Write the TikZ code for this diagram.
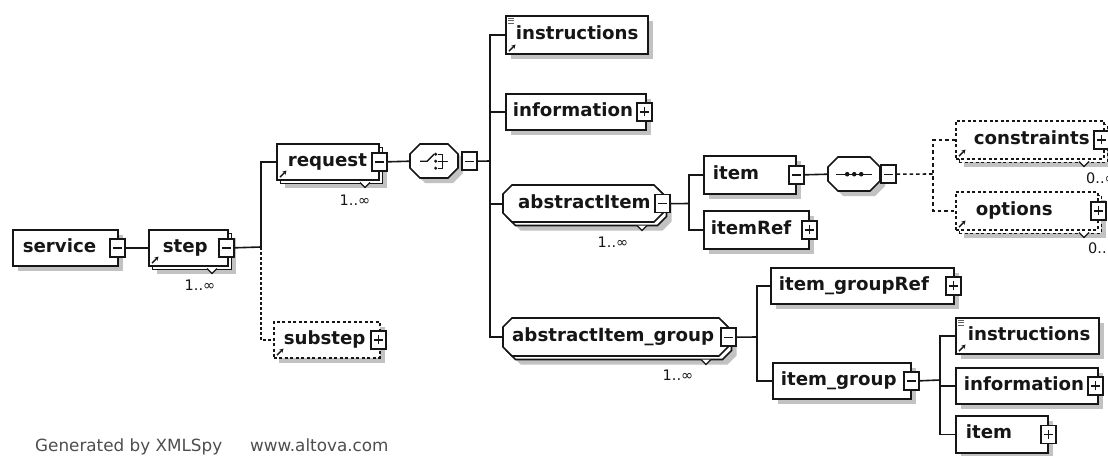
\documentclass[tikz,border=0pt]{standalone}
\usepackage{fontspec}
\setmainfont{DejaVu Sans}
\usetikzlibrary{shadows,arrows.meta}

\definecolor{ink}{HTML}{161616}
\definecolor{shade}{HTML}{C2C2C2}
\definecolor{foot}{HTML}{4E4E4E}
\definecolor{docline}{HTML}{606060}

\tikzset{
  lab/.style={font=\fontsize{18.2}{20}\selectfont\bfseries, text=ink},
  elbox/.style={draw=ink, line width=1.6pt, fill=white, anchor=north west,
    inner xsep=0pt, inner ysep=0pt, align=left, text height=13pt, text depth=4pt, lab},
  octlab/.style={anchor=north west, inner xsep=0pt, inner ysep=0pt, align=left,
    text height=13pt, text depth=4pt, lab},
  elshadow/.style={general shadow={shadow xshift=5pt, shadow yshift=-5pt, fill=shade}},
  elstack/.style={general shadow={shadow xshift=8.5pt, shadow yshift=-8.5pt, fill=shade},
    general shadow={shadow xshift=3.5pt, shadow yshift=-3.5pt, fill=white, draw=ink}},
  eloptional/.style={dash pattern=on 3pt off 2.5pt},
  conn/.style={draw=ink, line width=1.6pt},
  optconn/.style={conn, dash pattern=on 3.5pt off 3pt},
  dotconn/.style={conn, dash pattern=on 2.5pt off 2.5pt},
  pmbox/.style={draw=ink, line width=1.5pt, fill=white, minimum width=15pt, minimum height=18pt, inner sep=0pt},
  pmline/.style={draw=ink, line width=1.4pt},
  mult/.style={font=\fontsize{14.5}{16}\selectfont, inner sep=0pt, text=ink},
  refarrow/.style={draw=ink, line width=1.4pt, -{Stealth[length=4pt,width=4.5pt]}},
  docmark/.style={draw=docline, line width=0.9pt},
}

% element box: [style]{name}{x}{top}{width}{height}{label indent}{label}
\newcommand\el[8][]{\node[elbox,#1,minimum height=#6pt,text width=#5pt] (#2) at (#3,#4) {\hspace*{#7pt}#8};}
% octagon outline: {options}{x}{top}{width}{height}{chamfer}
\newcommand\octdraw[6]{\draw[#1,shift={(#2,#3)}] (#6,0) -- ({#4-#6},0) -- (#4,#6) -- (#4,{#5-#6}) -- ({#4-#6},#5) -- (#6,#5) -- (0,{#5-#6}) -- (0,#6) -- cycle;}
% collapse / expand buttons
\newcommand\mbx[2]{\node[pmbox] (#1) at (#2) {};\draw[pmline] ([xshift=-4.5pt]#1.center) -- ([xshift=4.5pt]#1.center);}
\newcommand\pbx[2]{\node[pmbox] (#1) at (#2) {};\draw[pmline] ([xshift=-4.5pt]#1.center) -- ([xshift=4.5pt]#1.center) ([yshift=-4.5pt]#1.center) -- ([yshift=4.5pt]#1.center);}
% small notch under a repeated element
\newcommand\notch[2]{\draw[draw=ink,line width=1.1pt,fill=white] ({#1-5},#2) -- (#1,{#2+5}) -- ({#1+5},#2);}
% reference arrow and documentation marks
\newcommand\refmark[1]{\draw[refarrow] ([shift={(4pt,3.5pt)}]#1.south west) -- ++(6.5pt,6.5pt);}
\newcommand\docicon[1]{\foreach \k in {3,5.5,8} \draw[docmark] ([shift={(3pt,-\k pt)}]#1.north west) -- ++(6pt,0);}

\begin{document}
\begin{tikzpicture}[x=1pt,y=-1pt]
\useasboundingbox (0,0) rectangle (1108,455);
\clip (0,0) rectangle (1108,455);
\fill[white] (0,0) rectangle (1108,455);

% ---- root and step
\el[elshadow]{service}{12}{229}{105}{36}{10}{service}
\mbx{service-m}{[xshift=-1pt]service.east}
\el[elstack]{step}{148}{229}{79}{36}{14}{step}
\mbx{step-m}{[xshift=-2pt]step.east}
\notch{212}{268.5}
\node[mult] (step-n) at (200,285) {1..∞};
\refmark{step}

% ---- request and substep
\el[elstack]{request}{276}{143}{102}{36}{11}{request}
\mbx{request-m}{request.east}
\notch{365}{182.5}
\node[mult] (request-n) at (355,200) {1..∞};
\refmark{request}

\el[elshadow,eloptional]{substep}{273}{321}{106}{36}{10}{substep}
\pbx{substep-p}{[xshift=-2pt]substep.east}
\refmark{substep}

% ---- choice compositor
\octdraw{fill=shade,draw=none,xshift=5pt,yshift=-5pt}{410}{144}{48}{34}{10}
\octdraw{fill=white,draw=ink,line width=1.6pt}{410}{144}{48}{34}{10}
\node[octlab,minimum height=34pt,text width=48pt] (choice) at (410,144) {};
\mbx{choice-m}{[xshift=11pt]choice.east}
\draw[conn,line width=1.3pt] ([xshift=-14pt]choice.center) -- ([xshift=-7pt]choice.center) -- ([shift={(0pt,7pt)}]choice.center);
\foreach \d in {7,0,-7} \fill[ink] ([shift={(1.5pt,\d pt)}]choice.center) circle (1.7pt);
\draw[conn,line width=1.3pt] ([shift={(3.5pt,7pt)}]choice.center) -- ++(5pt,0) -- ++(0,-14pt) -- ++(-5pt,0)
  ([shift={(3.5pt,0pt)}]choice.center) -- ++(10pt,0);

% ---- children of the choice
\el[elshadow]{instr}{505}{15}{142}{38}{10}{instructions}
\docicon{instr}\refmark{instr}
\el[elshadow]{info}{505}{93}{140}{36}{7}{information}
\pbx{info-p}{[xshift=-2pt]info.east}

\octdraw{fill=shade,draw=none,xshift=8.5pt,yshift=-8.5pt}{503}{185}{160}{37}{9}
\octdraw{fill=white,draw=ink,line width=1.6pt,xshift=3.5pt,yshift=-3.5pt}{503}{185}{160}{37}{9}
\octdraw{fill=white,draw=ink,line width=1.6pt}{503}{185}{160}{37}{9}
\node[octlab,minimum height=37pt,text width=160pt] (absitem) at (503,185) {\hspace*{15pt}abstractItem};
\mbx{absitem-m}{[xshift=-1pt]absitem.east}
\notch{642}{225.5}
\node[mult] (absitem-n) at (613,242) {1..∞};

\octdraw{fill=shade,draw=none,xshift=8.5pt,yshift=-8.5pt}{503}{318}{225}{38}{9}
\octdraw{fill=white,draw=ink,line width=1.6pt,xshift=3.5pt,yshift=-3.5pt}{503}{318}{225}{38}{9}
\octdraw{fill=white,draw=ink,line width=1.6pt}{503}{318}{225}{38}{9}
\node[octlab,minimum height=38pt,text width=225pt] (agroup) at (503,318) {\hspace*{9pt}abstractItem\_group};
\mbx{agroup-m}{agroup.east}
\notch{706}{359.5}
\node[mult] (agroup-n) at (678,375) {1..∞};

% ---- item branch
\el[elshadow]{item}{703}{155}{92}{38}{9}{item}
\mbx{item-m}{item.east}
\el[elshadow]{itemref}{703}{210}{105}{38}{7}{itemRef}
\pbx{itemref-p}{itemref.east}

\octdraw{fill=shade,draw=none,xshift=5pt,yshift=-5pt}{828}{157}{52}{34}{10}
\octdraw{fill=white,draw=ink,line width=1.6pt}{828}{157}{52}{34}{10}
\node[octlab,minimum height=34pt,text width=52pt] (seq) at (828,157) {};
\mbx{seq-m}{[xshift=8pt]seq.east}
\draw[conn,line width=1.3pt] ([xshift=-18pt]seq.center) -- ([xshift=18pt]seq.center);
\foreach \d in {-7,0,7} \fill[ink] ([xshift=\d pt]seq.center) circle (2.3pt);

\el[elstack,eloptional]{cons}{955}{120}{148}{38}{18}{constraints}
\pbx{cons-p}{[xshift=-3pt]cons.east}
\refmark{cons}
\notch{1084}{161.5}
\node[mult,anchor=west] (cons-n) at (1086,178) {0..∞};
\el[elstack,eloptional]{opts}{955}{191}{142}{38}{20}{options}
\pbx{opts-p}{opts.east}
\refmark{opts}
\notch{1084}{232.5}
\node[mult,anchor=west] (opts-n) at (1088,248) {0..∞};

% ---- group branch
\el[elshadow]{igref}{770}{267}{183}{36}{8}{item\_groupRef}
\pbx{igref-p}{[xshift=-1pt]igref.east}
\el[elshadow]{igroup}{772}{362}{138}{36}{8}{item\_group}
\mbx{igroup-m}{igroup.east}

\el[elshadow]{instr2}{955}{317}{143}{36}{12}{instructions}
\docicon{instr2}\refmark{instr2}
\el[elshadow]{info2}{955}{367}{142}{36}{8}{information}
\pbx{info2-p}{[xshift=-3pt]info2.east}
\el[elshadow]{item2}{955}{415}{92}{37}{10}{item}
\pbx{item2-p}{item2.east}

% ---- connectors
\coordinate (lb) at (261,247);
\coordinate (cb) at (490,161);
\coordinate (ib) at (689,203.5);
\coordinate (sb) at (933,174);
\coordinate (gb) at (757,337);
\coordinate (hb) at (940,380);

\draw[conn] (service-m.east) -- (step.west);
\draw[conn] (step-m.east) -- (lb);
\draw[conn] (lb) -- (lb |- request.west) -- (request.west);
\draw[dotconn] (lb) -- (lb |- substep.west) -- (substep.west);
\draw[conn] (request-m.east) -- (choice.west);

\draw[conn] (choice-m.east) -- (cb);
\draw[conn] (instr.west) -- (instr.west -| cb) -- (agroup.west -| cb) -- (agroup.west);
\draw[conn] (info.west) -- (info.west -| cb);
\draw[conn] (absitem.west) -- (absitem.west -| cb);

\draw[conn] (absitem-m.east) -- (ib);
\draw[conn] (item.west) -- (item.west -| ib) -- (itemref.west -| ib) -- (itemref.west);
\draw[conn] (item-m.east) -- (seq.west);
\draw[optconn] (seq-m.east) -- (sb);
\draw[optconn] (cons.west) -- (cons.west -| sb) -- (opts.west -| sb) -- (opts.west);

\draw[conn] (agroup-m.east) -- (gb);
\draw[conn] (igref.west) -- (igref.west -| gb) -- (igroup.west -| gb) -- (igroup.west);
\draw[conn] (igroup-m.east) -- (hb);
\draw[conn] (instr2.west) -- (instr2.west -| hb) -- (item2.west -| hb) -- (item2.west);
\draw[conn] (info2.west) -- (info2.west -| hb);

% ---- footer
\node[anchor=base west, font=\fontsize{16.8}{18}\selectfont, text=foot, inner sep=0pt] (gen) at (35,451) {Generated by XMLSpy};
\node[anchor=base west, font=\fontsize{16.8}{18}\selectfont, text=foot, inner sep=0pt] (url) at (250,451) {www.altova.com};
\end{tikzpicture}
\end{document}
